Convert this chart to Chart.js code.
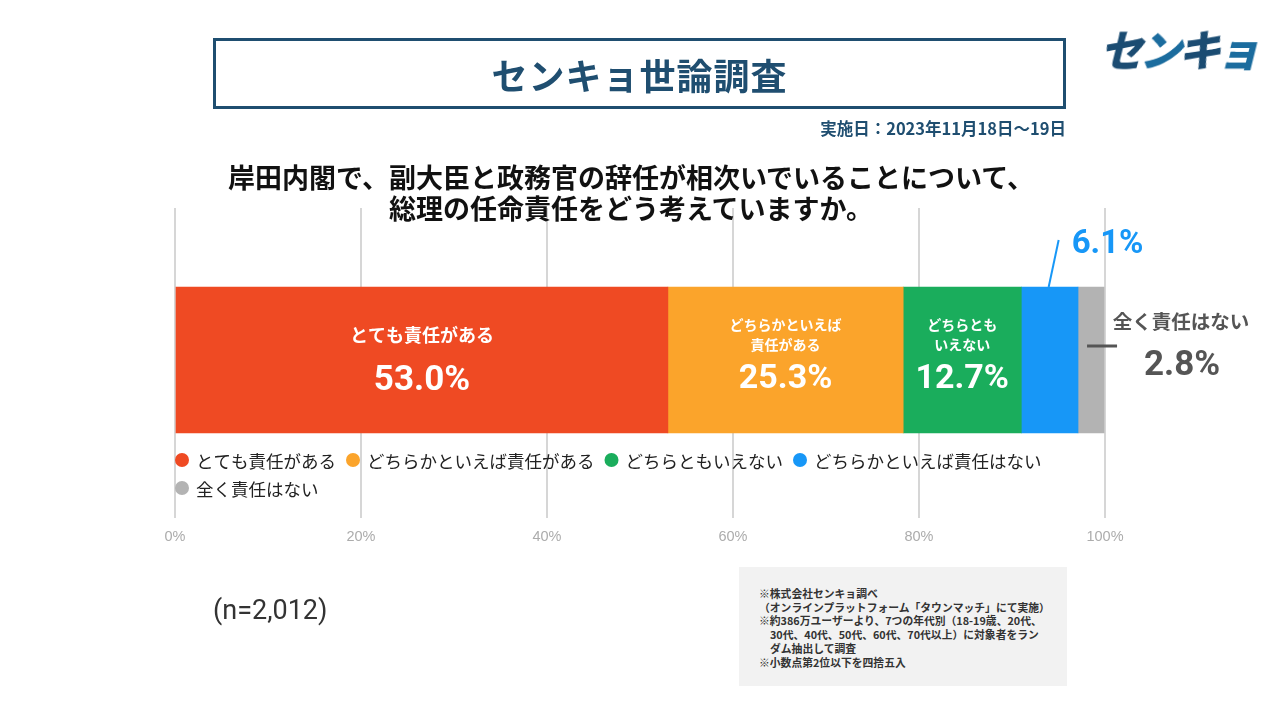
<!DOCTYPE html>
<html lang="ja">
<head>
<meta charset="utf-8">
<title>センキョ世論調査</title>
<script src="https://cdn.jsdelivr.net/npm/chart.js@4.4.1/dist/chart.umd.min.js"></script>
<style>
  html, body { margin: 0; padding: 0; background: #fff; }
  #page { position: relative; width: 1280px; height: 720px; overflow: hidden; font-family: "Noto Sans CJK JP", sans-serif; }
  #chartWrap { position: absolute; left: 0; top: 0; width: 1280px; height: 720px; }
  .titleBox {
    position: absolute; left: 213px; top: 38px; width: 853px; height: 71px; box-sizing: border-box;
    border: 3px solid #1f4e70; color: #1f4e70; font-size: 36px; font-weight: 700;
    display: flex; align-items: center; justify-content: center; letter-spacing: 1px;
  }
  .date { position: absolute; right: 214px; top: 116px; font-size: 16.5px; font-weight: 700; color: #1f4e70; }
  .question {
    position: absolute; left: 131px; width: 1000px; top: 161px; text-align: center;
    font-size: 27px; line-height: 31px; font-weight: 700; color: #111;
  }
  .logo {
    position: absolute; left: 1097px; top: 16px; font-size: 43px; font-weight: 900; letter-spacing: -4px;
    transform: skewX(-14deg); transform-origin: left bottom;
  }
  .logo .a { color: #1b4c72; }
  .logo .b { color: #1b6c9e; }
  .nCount { position: absolute; left: 213px; top: 594px; font-family: Roboto, sans-serif; font-size: 27px; color: #333; }
  .note {
    position: absolute; left: 739px; top: 567px; width: 328px; height: 119px; background: #f2f2f2;
    box-sizing: border-box; padding: 20px 0 0 20px; font-size: 10.8px; line-height: 13.7px; font-weight: 700; color: #333;
  }
  .note .ind { padding-left: 11px; }
</style>
</head>
<body>
<div id="page">
  <div id="chartWrap"><canvas id="surveyChart"></canvas></div>
  <div class="titleBox">センキョ世論調査</div>
  <div class="date">実施日：2023年11月18日～19日</div>
  <div class="question">岸田内閣で、副大臣と政務官の辞任が相次いでいることについて、<br>総理の任命責任をどう考えていますか。</div>
  <div class="logo"><span class="a">セ</span><span class="b">ン</span><span class="a">キ</span><span class="b">ョ</span></div>
  <div class="nCount">(n=2,012)</div>
  <div class="note">
    <div>※株式会社センキョ調べ</div>
    <div>（オンラインプラットフォーム「タウンマッチ」にて実施）</div>
    <div>※約386万ユーザーより、7つの年代別（18-19歳、20代、</div>
    <div class="ind">30代、40代、50代、60代、70代以上）に対象者をラン</div>
    <div class="ind">ダム抽出して調査</div>
    <div>※小数点第2位以下を四捨五入</div>
  </div>
</div>

<script>
// survey data
const categories = ['全体'];
const seriesLabels = ['とても責任がある', 'どちらかといえば責任がある', 'どちらともいえない', 'どちらかといえば責任はない', '全く責任はない'];
const values = [53.0, 25.3, 12.7, 6.1, 2.8];
const barLabelLines = [['とても責任がある'], ['どちらかといえば', '責任がある'], ['どちらとも', 'いえない'], [], []];
const tickValues = [0, 20, 40, 60, 80, 100];

const colors = ['#ef4a23', '#fba42b', '#1aad5c', '#1797f7', '#b3b3b3'];
const JP = '"Noto Sans CJK JP", sans-serif';
const NUM = 'Roboto, "Noto Sans CJK JP", sans-serif';

const datasets = seriesLabels.map((label, i) => ({
    label,
    data: [values[i]],
    backgroundColor: colors[i],
    borderWidth: 0,
    barThickness: 146
}));

// labels inside / beside the bar segments
const barLabels = {
    id: 'barLabels',
    afterDatasetsDraw(chart) {
        const ctx = chart.ctx;
        ctx.save();
        ctx.textAlign = 'center';
        ctx.textBaseline = 'middle';
        chart.data.datasets.forEach((ds, i) => {
            const bar = chart.getDatasetMeta(i).data[0];
            const { x, base, y } = bar.getProps(['x', 'base', 'y'], true);
            const cx = (x + base) / 2;
            const pct = values[i].toFixed(1) + '%';
            const lines = barLabelLines[i];
            if (i === 0) {
                ctx.fillStyle = '#fff';
                ctx.font = 'bold 18px ' + JP;
                ctx.fillText(lines[0], cx, y - 25);
                ctx.font = 'bold 35px ' + NUM;
                ctx.fillText(pct, cx, y + 21);
            } else if (i === 1 || i === 2) {
                ctx.fillStyle = '#fff';
                ctx.font = 'bold 14px ' + JP;
                ctx.fillText(lines[0], cx, y - 35);
                ctx.fillText(lines[1], cx, y - 15);
                ctx.font = 'bold 34px ' + NUM;
                ctx.fillText(pct, cx, y + 19);
            } else if (i === 3) {
                const top = y - 73;
                ctx.strokeStyle = colors[3];
                ctx.lineWidth = 2;
                ctx.beginPath();
                ctx.moveTo(cx - 1, top);
                ctx.lineTo(cx + 9, top - 47);
                ctx.stroke();
                ctx.fillStyle = colors[3];
                ctx.textAlign = 'left';
                ctx.font = 'bold 33px ' + NUM;
                ctx.fillText(pct, cx + 22, top - 42);
                ctx.textAlign = 'center';
            } else {
                ctx.strokeStyle = '#555';
                ctx.lineWidth = 3;
                ctx.beginPath();
                ctx.moveTo(cx - 4, y - 14);
                ctx.lineTo(cx + 26, y - 14);
                ctx.stroke();
                ctx.fillStyle = '#555';
                ctx.font = 'bold 19.5px ' + JP;
                ctx.fillText(seriesLabels[i], cx + 90, y - 38);
                ctx.font = 'bold 35px ' + NUM;
                ctx.fillText(pct, cx + 91, y + 6);
            }
        });
        ctx.restore();
    }
};

// legend drawn over the grid, under the bar
const overlayLegend = {
    id: 'overlayLegend',
    afterDraw(chart) {
        const ctx = chart.ctx;
        const area = chart.chartArea;
        ctx.save();
        ctx.font = '17.5px ' + JP;
        ctx.textBaseline = 'middle';
        ctx.textAlign = 'left';
        let x = area.left + 7;
        let y = 460;
        seriesLabels.forEach((label, i) => {
            const w = ctx.measureText(label).width;
            if (x + 15 + w > area.right) {
                x = area.left + 7;
                y += 28;
            }
            ctx.fillStyle = colors[i];
            ctx.beginPath();
            ctx.arc(x, y, 7, 0, Math.PI * 2);
            ctx.fill();
            ctx.fillStyle = '#222';
            ctx.fillText(label, x + 14, y + 1);
            x += 14 + w + 17;
        });
        ctx.restore();
    }
};

new Chart(document.getElementById('surveyChart'), {
    type: 'bar',
    data: { labels: categories, datasets },
    options: {
        indexAxis: 'y',
        responsive: true,
        maintainAspectRatio: false,
        animation: false,
        layout: { padding: { left: 175, right: 175, top: 208, bottom: 168 } },
        plugins: {
            legend: { display: false },
            tooltip: { enabled: false }
        },
        scales: {
            x: {
                stacked: true,
                min: 0,
                max: 100,
                afterBuildTicks: (scale) => { scale.ticks = tickValues.map(v => ({ value: v })); },
                afterFit: (scale) => { scale.height = 40; },
                grid: { color: '#d6d6d6', lineWidth: 2, drawTicks: true, tickLength: 6 },
                border: { display: false },
                ticks: {
                    padding: 10,
                    color: '#acacac',
                    font: { family: '"Liberation Sans", sans-serif', size: 14.5 },
                    callback: (v) => v + '%'
                }
            },
            y: { stacked: true, display: false }
        }
    },
    plugins: [barLabels, overlayLegend]
});
</script>
</body>
</html>
